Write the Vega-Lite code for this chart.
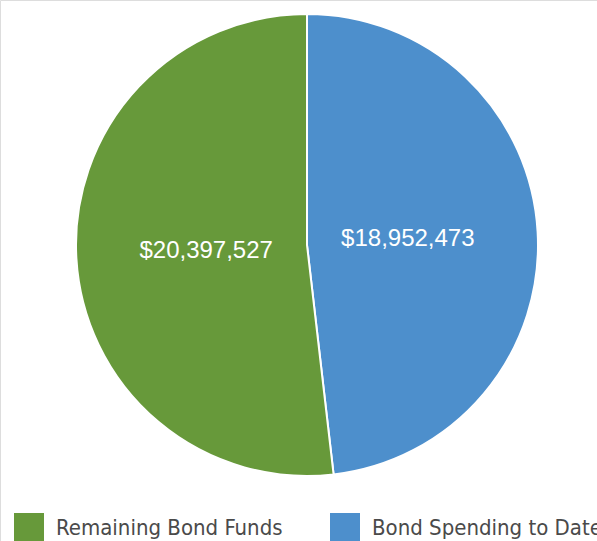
{
  "$schema": "https://vega.github.io/schema/vega-lite/v6.json",
  "width": 597,
  "height": 541,
  "padding": 0,
  "autosize": "none",
  "background": "white",
  "data": {
    "values": [
      {"category": "Bond Spending to Date", "amount": 18952473, "order": 1, "label": "$18,952,473"},
      {"category": "Remaining Bond Funds", "amount": 20397527, "order": 2, "label": "$20,397,527"}
    ]
  },
  "encoding": {
    "theta": {"field": "amount", "type": "quantitative", "stack": true},
    "order": {"field": "order", "type": "quantitative"},
    "x": {"value": 307},
    "y": {"value": 245}
  },
  "layer": [
    {
      "mark": {"type": "arc", "outerRadius": 231, "stroke": "white", "strokeWidth": 2},
      "encoding": {
        "color": {
          "field": "category",
          "type": "nominal",
          "scale": {"domain": ["Remaining Bond Funds", "Bond Spending to Date"], "range": ["#67993a", "#4d8fcc"]},
          "legend": {
            "orient": "none",
            "legendX": 14,
            "legendY": 513,
            "direction": "horizontal",
            "title": null,
            "padding": 0,
            "symbolType": "square",
            "symbolSize": 900,
            "symbolStrokeWidth": 0,
            "symbolOpacity": 1,
            "labelFont": "DejaVu Sans Condensed",
            "labelFontSize": 22,
            "labelColor": "#4a4a4a",
            "labelOffset": 12,
            "columnPadding": 47,
            "labelLimit": 400
          }
        }
      }
    },
    {
      "mark": {"type": "text", "radius": 101, "font": "Liberation Sans", "fontSize": 24, "fill": "white", "align": "center", "baseline": "middle"},
      "encoding": {"text": {"field": "label", "type": "nominal"}}
    }
  ]
}
